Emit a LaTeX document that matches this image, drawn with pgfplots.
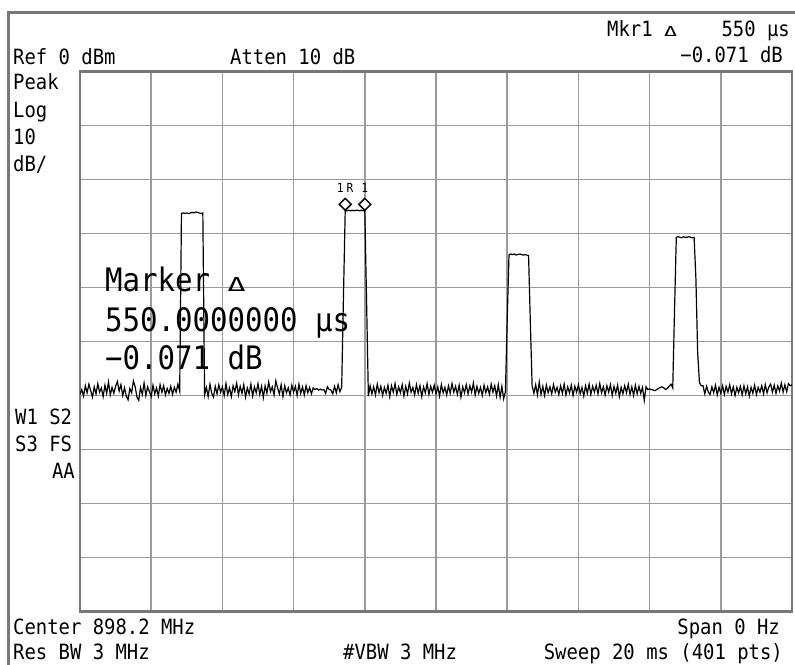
\documentclass[border=0pt]{standalone}
\usepackage{pgfplots}
\pgfplotsset{compat=1.18}
\usepackage{fontspec}
\setmainfont{DejaVu Sans Mono}[FakeStretch=0.9]
\definecolor{gridgray}{RGB}{155,155,155}
\definecolor{boxgray}{RGB}{120,120,120}
\newcommand{\sm}{\fontsize{21bp}{21bp}\selectfont}
\newcommand{\bg}{\fontsize{32.3bp}{32.3bp}\selectfont}
\newcommand{\mk}{\fontsize{12.5bp}{12.5bp}\selectfont}
\begin{document}
\begin{tikzpicture}[x=1bp,y=1bp]
\useasboundingbox (0,0) rectangle (795,665);
\draw[boxgray, line width=2.5bp] (8.5,0) -- (8.5,652.5) -- (796,652.5);
\begin{axis}[
  at={(80bp,53.5bp)}, anchor=south west,
  scale only axis, width=712bp, height=540bp,
  xmin=0, xmax=400, ymin=-100, ymax=0,
  xtick={0,40,...,400}, ytick={-100,-90,...,0},
  xticklabels={}, yticklabels={},
  major tick length=0pt,
  grid=major,
  major grid style={draw=gridgray, line width=1.7bp},
  axis line style={draw=boxgray, line width=2.6bp},
]
\addplot[black, line width=1.2bp, mark=none] coordinates {
(0,-59.8)(1,-58.9)(2,-60.1)(3,-58.2)(4,-59.5)(5,-57.9)(6,-59.1)(7,-60.3)(8,-58.4)(9,-59.7)
(10,-57.8)(11,-59.4)(12,-58.6)(13,-60.2)(14,-58.1)(15,-59.6)(16,-57.5)(17,-59.9)(18,-58.5)(19,-59.6)
(20,-58.3)(21,-57.4)(22,-59.2)(23,-58.0)(24,-60.0)(25,-58.6)(26,-60.1)(27,-60.8)(28,-58.7)(29,-59.5)
(30,-57.3)(31,-58.4)(32,-60.3)(33,-60.9)(34,-58.5)(35,-59.8)(36,-57.7)(37,-60.0)(38,-58.4)(39,-59.3)
(40,-60.2)(41,-58.1)(42,-59.7)(43,-58.6)(44,-60.1)(45,-58.0)(46,-59.4)(47,-58.2)(48,-59.9)(49,-58.7)
(50,-59.6)(51,-58.3)(52,-59.8)(53,-58.5)(54,-59.4)(55,-57.9)(56,-59.2)(57,-26.3)(58,-26.2)(59,-26.3)
(60,-26.2)(61,-26.3)(62,-26.2)(63,-26.1)(64,-26.2)(65,-26.0)(66,-26.1)(67,-26.2)(68,-26.3)(69,-26.2)
(70,-59.9)(71,-58.5)(72,-60.2)(73,-57.9)(74,-59.6)(75,-60.3)(76,-58.3)(77,-59.7)(78,-58.0)(79,-59.4)
(80,-58.4)(81,-60.0)(82,-57.8)(83,-59.8)(84,-58.6)(85,-60.2)(86,-58.2)(87,-59.3)(88,-57.7)(89,-59.9)
(90,-58.3)(91,-59.6)(92,-58.0)(93,-60.3)(94,-58.6)(95,-59.7)(96,-57.9)(97,-60.1)(98,-58.4)(99,-59.5)
(100,-57.8)(101,-59.8)(102,-58.3)(103,-60.4)(104,-58.2)(105,-59.6)(106,-57.5)(107,-59.3)(108,-58.4)(109,-59.9)
(110,-57.3)(111,-58.6)(112,-59.7)(113,-58.0)(114,-60.2)(115,-58.2)(116,-59.5)(117,-58.6)(118,-59.9)(119,-58.1)
(120,-59.4)(121,-58.3)(122,-60.0)(123,-57.9)(124,-59.6)(125,-58.4)(126,-59.9)(127,-58.2)(128,-59.5)(129,-58.5)
(130,-59.7)(131,-58.6)(132,-58.9)(133,-58.7)(134,-59.0)(135,-58.8)(136,-59.0)(137,-58.9)(138,-59.6)(139,-58.4)
(140,-58.9)(141,-59.0)(142,-59.7)(143,-58.3)(144,-59.5)(145,-58.0)(146,-59.3)(147,-58.5)(148,-41.8)(149,-25.7)
(150,-25.8)(151,-25.7)(152,-25.8)(153,-25.7)(154,-25.8)(155,-25.7)(156,-25.7)(157,-25.8)(158,-25.7)(159,-25.8)
(160,-25.8)(161,-42.7)(162,-60.1)(163,-58.2)(164,-59.7)(165,-58.4)(166,-59.9)(167,-57.9)(168,-59.5)(169,-58.3)
(170,-60.0)(171,-58.5)(172,-59.6)(173,-58.1)(174,-60.2)(175,-58.2)(176,-59.4)(177,-57.8)(178,-59.8)(179,-58.4)
(180,-59.5)(181,-58.0)(182,-60.1)(183,-58.3)(184,-59.7)(185,-57.7)(186,-59.4)(187,-58.5)(188,-59.9)(189,-58.0)
(190,-59.6)(191,-58.2)(192,-60.2)(193,-58.4)(194,-59.5)(195,-57.8)(196,-59.8)(197,-58.3)(198,-59.4)(199,-58.1)
(200,-59.7)(201,-58.4)(202,-60.1)(203,-58.0)(204,-59.5)(205,-58.5)(206,-59.9)(207,-58.2)(208,-59.6)(209,-57.8)
(210,-59.4)(211,-58.3)(212,-59.8)(213,-58.1)(214,-60.3)(215,-58.4)(216,-59.5)(217,-58.0)(218,-59.7)(219,-58.2)
(220,-59.4)(221,-57.7)(222,-59.9)(223,-58.3)(224,-59.6)(225,-58.5)(226,-60.0)(227,-58.1)(228,-59.5)(229,-58.4)
(230,-59.8)(231,-57.9)(232,-59.4)(233,-58.2)(234,-60.1)(235,-58.0)(236,-60.3)(237,-58.3)(238,-60.6)(239,-59.3)
(240,-46.0)(241,-34.0)(242,-33.8)(243,-33.9)(244,-33.8)(245,-34.0)(246,-33.9)(247,-33.8)(248,-33.9)(249,-34.0)
(250,-33.9)(251,-34.0)(252,-34.1)(253,-46.5)(254,-58.2)(255,-59.6)(256,-58.0)(257,-59.9)(258,-57.5)(259,-59.8)
(260,-58.3)(261,-60.0)(262,-58.1)(263,-59.5)(264,-58.4)(265,-59.7)(266,-58.0)(267,-59.4)(268,-58.5)(269,-59.8)
(270,-58.2)(271,-59.6)(272,-57.9)(273,-59.9)(274,-58.4)(275,-59.5)(276,-58.1)(277,-60.0)(278,-58.3)(279,-59.4)
(280,-58.0)(281,-59.7)(282,-58.5)(283,-60.1)(284,-58.2)(285,-59.6)(286,-57.9)(287,-59.8)(288,-58.3)(289,-59.4)
(290,-58.1)(291,-59.7)(292,-57.8)(293,-59.5)(294,-58.4)(295,-59.9)(296,-58.2)(297,-59.4)(298,-58.0)(299,-60.0)
(300,-58.3)(301,-59.6)(302,-58.1)(303,-60.2)(304,-58.5)(305,-59.7)(306,-58.2)(307,-59.5)(308,-57.9)(309,-59.8)
(310,-58.4)(311,-60.0)(312,-58.1)(313,-59.7)(314,-58.3)(315,-59.6)(316,-58.5)(317,-60.9)(318,-58.4)(319,-58.9)
(320,-58.8)(321,-58.9)(322,-59.0)(323,-59.1)(324,-58.9)(325,-58.7)(326,-58.5)(327,-58.4)(328,-58.6)(329,-58.9)
(330,-58.7)(331,-58.3)(332,-57.9)(333,-58.6)(334,-44.2)(335,-30.7)(336,-30.6)(337,-30.7)(338,-30.8)(339,-30.6)
(340,-30.7)(341,-30.7)(342,-30.6)(343,-30.7)(344,-30.8)(345,-30.7)(346,-38.3)(347,-52.1)(348,-57.6)(349,-58.2)
(350,-58.2)(351,-59.7)(352,-58.3)(353,-59.4)(354,-59.8)(355,-58.4)(356,-59.5)(357,-58.1)(358,-59.9)(359,-58.5)
(360,-59.6)(361,-58.2)(362,-59.8)(363,-58.3)(364,-59.4)(365,-58.0)(366,-59.7)(367,-58.4)(368,-60.0)(369,-58.5)
(370,-59.5)(371,-58.3)(372,-59.9)(373,-58.2)(374,-59.7)(375,-58.4)(376,-60.1)(377,-58.5)(378,-59.6)(379,-58.1)
(380,-59.8)(381,-58.5)(382,-59.4)(383,-58.2)(384,-59.7)(385,-58.0)(386,-59.5)(387,-58.4)(388,-57.9)(389,-59.4)
(390,-58.1)(391,-59.6)(392,-58.2)(393,-59.2)(394,-57.7)(395,-59.4)(396,-58.0)(397,-59.3)(398,-57.8)(399,-58.2)
(400,-58.0)
};
\addplot[only marks, mark=square*, mark size=4.2bp,
  mark options={rotate=45, draw=black, fill=white, line width=1.5bp},
  nodes near coords, point meta=explicit symbolic,
  nodes near coords align={anchor=base},
  every node near coord/.append style={yshift=12bp, font=\mk, inner sep=0pt, text=black}]
  coordinates {(149,-24.6)[1\hspace{3bp}R] (160,-24.6)[1]};
\end{axis}
\begin{scope}[every node/.style={inner sep=0pt, font=\sm}]
\node[anchor=base west] at (13,600) {Ref 0 dBm};
\node[anchor=base west] at (230,600) {Atten 10 dB};
\node[anchor=base west] at (607,628) {Mkr1 \resizebox{13bp}{10bp}{Δ}};
\node[anchor=base east] at (790,628) {550 µs};
\node[anchor=base east] at (783,602) {−0.071 dB};
\node[anchor=base west] at (13,575) {Peak};
\node[anchor=base west] at (13,547) {Log};
\node[anchor=base west] at (13,520) {10};
\node[anchor=base west] at (13,493) {dB/};
\node[anchor=base west] at (15,240) {W1 S2};
\node[anchor=base west] at (15,213) {S3 FS};
\node[anchor=base east] at (75,186) {AA};
\node[anchor=base west] at (13,30) {Center 898.2 MHz};
\node[anchor=base west] at (13,5) {Res BW 3 MHz};
\node[anchor=base west] at (343,5) {\#VBW 3 MHz};
\node[anchor=base east] at (780,30) {Span 0 Hz};
\node[anchor=base east] at (783,5) {Sweep 20 ms (401 pts)};
\node[anchor=base west, font=\bg] at (105,373) {Marker \resizebox{18bp}{14bp}{Δ}};
\node[anchor=base west, font=\bg] at (105,333) {550.0000000 µs};
\node[anchor=base west, font=\bg] at (105,295) {−0.071 dB};
\end{scope}
\end{tikzpicture}
\end{document}
